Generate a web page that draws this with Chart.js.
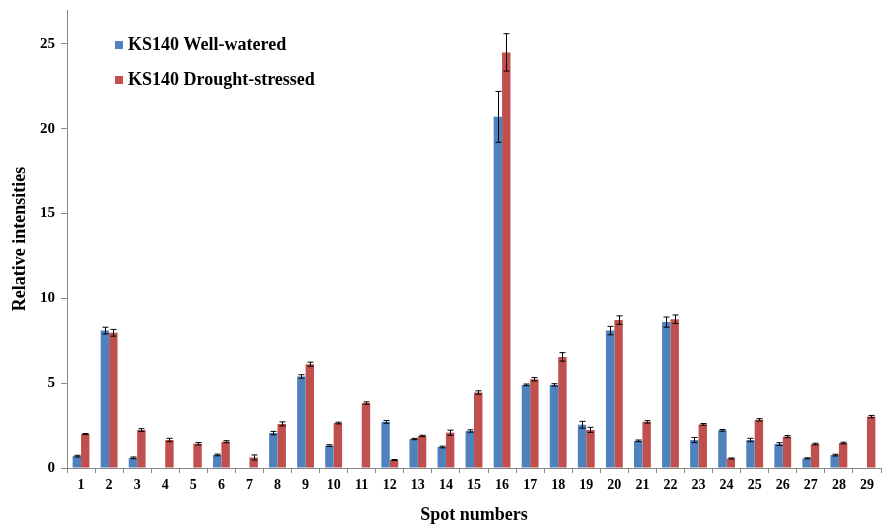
<!DOCTYPE html>
<html>
<head>
<meta charset="utf-8">
<script src="https://cdn.jsdelivr.net/npm/chart.js@4/dist/chart.umd.min.js"></script>
<style>
  html, body { margin: 0; padding: 0; background: #fff; }
  #wrap { width: 883px; height: 530px; }
</style>
</head>
<body>
<div id="wrap"><canvas id="spotChart"></canvas></div>
<script>
// DATA
const spots = ['1','2','3','4','5','6','7','8','9','10','11','12','13','14','15',
               '16','17','18','19','20','21','22','23','24','25','26','27','28','29'];
const wellWatered = [0.7, 8.1, 0.6, null, null, 0.77, null, 2.06, 5.4, 1.32, null, 2.72, 1.71, 1.24, 2.18,
                     20.7, 4.9, 4.9, 2.55, 8.1, 1.6, 8.6, 1.65, 2.22, 1.65, 1.41, 0.57, 0.76, null];
const wellErr     = [0.05, 0.2, 0.05, 0, 0, 0.05, 0, 0.1, 0.1, 0.05, 0, 0.08, 0.04, 0.05, 0.07,
                     1.5, 0.05, 0.07, 0.2, 0.25, 0.05, 0.3, 0.15, 0.05, 0.1, 0.08, 0.03, 0.05, 0];
const drought     = [2.0, 7.97, 2.24, 1.65, 1.43, 1.55, 0.62, 2.6, 6.12, 2.65, 3.83, 0.47, 1.89, 2.08, 4.45,
                     24.5, 5.23, 6.55, 2.25, 8.72, 2.72, 8.77, 2.57, 0.56, 2.84, 1.85, 1.41, 1.47, 3.03];
const droughtErr  = [0.03, 0.2, 0.08, 0.1, 0.07, 0.06, 0.15, 0.12, 0.12, 0.05, 0.07, 0.03, 0.04, 0.15, 0.1,
                     1.1, 0.1, 0.25, 0.15, 0.25, 0.07, 0.25, 0.05, 0.03, 0.07, 0.06, 0.05, 0.05, 0.07];
const yTicks = [0, 5, 10, 15, 20, 25];

const serif = "'Liberation Serif', 'Times New Roman', serif";

// error bars drawn from the data arrays
const errorBars = {
  id: 'errorBars',
  afterDatasetsDraw(chart) {
    const ctx = chart.ctx;
    const y = chart.scales.y;
    ctx.save();
    ctx.strokeStyle = '#000';
    ctx.lineWidth = 1;
    chart.data.datasets.forEach((ds, i) => {
      const meta = chart.getDatasetMeta(i);
      meta.data.forEach((bar, j) => {
        const v = ds.data[j];
        if (v == null) return;
        const e = ds.errors[j];
        const top = y.getPixelForValue(v + e);
        const bot = y.getPixelForValue(v - e);
        const x = Math.round(bar.x) + 0.5;
        ctx.beginPath();
        ctx.moveTo(x, top); ctx.lineTo(x, bot);
        ctx.moveTo(x - 3, top); ctx.lineTo(x + 3, top);
        ctx.moveTo(x - 3, bot); ctx.lineTo(x + 3, bot);
        ctx.stroke();
      });
    });
    ctx.restore();
  }
};

// legend inside the plot, top left
const innerLegend = {
  id: 'innerLegend',
  afterDraw(chart) {
    const ctx = chart.ctx;
    ctx.save();
    ctx.font = 'bold 18px ' + serif;
    ctx.textBaseline = 'middle';
    chart.data.datasets.forEach((ds, i) => {
      const yy = 45 + i * 35;
      ctx.fillStyle = ds.backgroundColor;
      ctx.fillRect(115, yy - 4, 8, 8);
      ctx.fillStyle = '#000';
      ctx.fillText(ds.label, 128, yy);
    });
    ctx.restore();
  }
};

new Chart(document.getElementById('spotChart'), {
  type: 'bar',
  data: {
    labels: spots,
    datasets: [{
      label: 'KS140 Well-watered',
      data: wellWatered,
      errors: wellErr,
      backgroundColor: '#4F81BD'
    }, {
      label: 'KS140 Drought-stressed',
      data: drought,
      errors: droughtErr,
      backgroundColor: '#C0504D'
    }]
  },
  options: {
    responsive: true,
    maintainAspectRatio: false,
    animation: false,
    layout: { padding: { top: 10, right: 2, left: 0, bottom: 0 } },
    datasets: { bar: { categoryPercentage: 0.6, barPercentage: 1 } },
    plugins: {
      legend: { display: false },
      tooltip: { enabled: false }
    },
    scales: {
      x: {
        grid: { drawOnChartArea: false, drawTicks: true, tickLength: 5, color: '#888' },
        border: { color: '#888' },
        ticks: { color: '#000', font: { family: serif, size: 14, weight: 'bold' }, padding: 4, maxRotation: 0 },
        title: { display: true, text: 'Spot numbers', color: '#000', font: { family: serif, size: 18, weight: 'bold' }, padding: { top: 6 } },
        afterFit(s) { s.height = 62; }
      },
      y: {
        min: 0,
        max: 27,
        afterBuildTicks(s) { s.ticks = yTicks.map(v => ({ value: v })); },
        grid: { drawOnChartArea: false, drawTicks: true, tickLength: 6, color: '#888' },
        border: { color: '#888' },
        ticks: { color: '#000', font: { family: serif, size: 15, weight: 'bold' }, padding: 6 },
        title: { display: true, text: 'Relative intensities', color: '#000', font: { family: serif, size: 18, weight: 'bold' }, padding: { top: 10, bottom: 8 } },
        afterFit(s) { s.width = 67; s.paddingTop = 0; s.paddingBottom = 0; }
      }
    }
  },
  plugins: [errorBars, innerLegend]
});
</script>
</body>
</html>
